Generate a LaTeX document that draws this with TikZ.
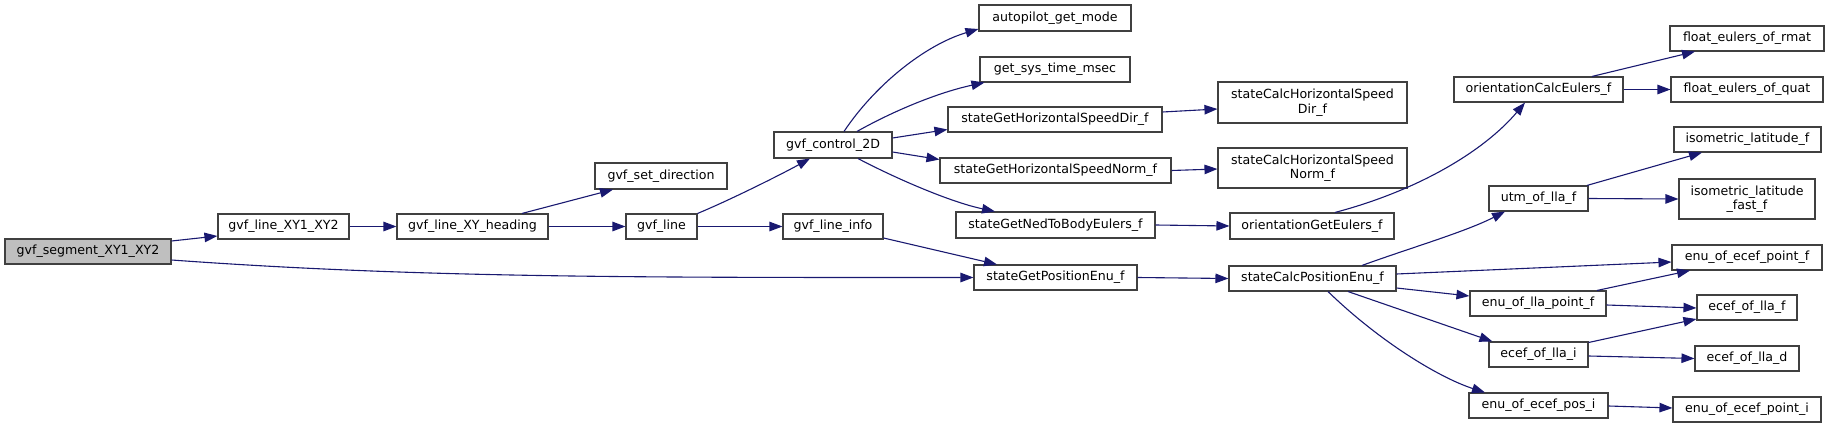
\documentclass[tikz,border=0pt]{standalone}
\usepackage{fontspec}
\newfontfamily\dejavu{DejaVu Sans}
\usetikzlibrary{arrows.meta}
\definecolor{edgecol}{HTML}{191970}
\definecolor{boxcol}{HTML}{404040}
\definecolor{rootfill}{HTML}{BFBFBF}
\tikzset{
  fbox/.style={draw=boxcol, line width=1.1pt, fill=white, inner sep=0pt,
    font=\dejavu\fontsize{12.6}{14.5}\selectfont, align=center, text=black},
  edge/.style={draw=edgecol, line width=1.1pt, -{Triangle[length=13pt,width=9.5pt]}},
}
\newcommand\mybox[6]{\node[fbox, minimum width=#4pt, minimum height=#5pt] (#1) at (#2,#3) {#6};}
\begin{document}
\begin{tikzpicture}[x=1pt,y=-1pt]
\useasboundingbox (0,0) rectangle (1829,428);
% column 1-5
\node[fbox, fill=rootfill, minimum width=166pt, minimum height=25pt] (seg) at (88,251.5) {gvf\_segment\_XY1\_XY2};
\mybox{l12}{283.5}{226.5}{131}{25}{gvf\_line\_XY1\_XY2}
\mybox{head}{472.5}{226.5}{151}{25}{gvf\_line\_XY\_heading}
\mybox{setdir}{661}{176}{132}{26}{gvf\_set\_direction}
\mybox{line}{661.5}{226.5}{71}{25}{gvf\_line}
\mybox{info}{833}{226.5}{100}{25}{gvf\_line\_info}
\mybox{c2d}{833}{145}{118}{26}{gvf\_control\_2D}
% column 6
\mybox{apm}{1055}{18}{152}{26}{autopilot\_get\_mode}
\mybox{gst}{1055}{69.5}{150}{25}{get\_sys\_time\_msec}
\mybox{hsd}{1055}{119.5}{214}{25}{stateGetHorizontalSpeedDir\_f}
\mybox{hsn}{1055.5}{170.5}{231}{25}{stateGetHorizontalSpeedNorm\_f}
\mybox{ned}{1055.5}{225}{199}{26}{stateGetNedToBodyEulers\_f}
\mybox{pos}{1055.5}{277.5}{163}{25}{stateGetPositionEnu\_f}
% column 7
\mybox{chsd}{1312.5}{102.5}{189}{41}{stateCalcHorizontalSpeed\\Dir\_f}
\mybox{chsn}{1312.5}{168}{189}{40}{stateCalcHorizontalSpeed\\Norm\_f}
\mybox{oge}{1312}{226}{164}{26}{orientationGetEulers\_f}
\mybox{cpos}{1312.5}{278.5}{167}{25}{stateCalcPositionEnu\_f}
% column 8
\mybox{oce}{1538.5}{89.5}{169}{25}{orientationCalcEulers\_f}
\mybox{utm}{1538.5}{198.5}{99}{25}{utm\_of\_lla\_f}
\mybox{elp}{1538}{303.5}{136}{25}{enu\_of\_lla\_point\_f}
\mybox{eli}{1538.5}{354.5}{99}{25}{ecef\_of\_lla\_i}
\mybox{eep}{1538.5}{405.5}{139}{25}{enu\_of\_ecef\_pos\_i}
% column 9
\mybox{rmat}{1747}{38.5}{154}{25}{float\_eulers\_of\_rmat}
\mybox{quat}{1747}{89.5}{152}{25}{float\_eulers\_of\_quat}
\mybox{iso}{1747.5}{139.5}{147}{25}{isometric\_latitude\_f}
\mybox{isof}{1747}{199}{136}{40}{isometric\_latitude\\\_fast\_f}
\mybox{eepf}{1747}{257.5}{150}{25}{enu\_of\_ecef\_point\_f}
\mybox{elf}{1747}{307.5}{100}{25}{ecef\_of\_lla\_f}
\mybox{eld}{1747}{358.5}{104}{25}{ecef\_of\_lla\_d}
\mybox{eepi}{1747}{409.5}{148}{25}{enu\_of\_ecef\_point\_i}
% edges
\draw[edge] ([yshift=10.5pt]seg.east) -- ([yshift=-9.5pt]l12.west);
\draw[edge] ([yshift=-8.5pt]seg.east) .. controls (420,278) and (640,277.5) .. (pos.west);
\draw[edge] (l12.east) -- (head.west);
\draw[edge] ([xshift=49.5pt]head.north) -- ([xshift=-48pt]setdir.south);
\draw[edge] (head.east) -- (line.west);
\draw[edge] (line.north east) .. controls (730,200) and (780,175) .. ([xshift=-23pt]c2d.south);
\draw[edge] (line.east) -- (info.west);
\draw[edge] ([yshift=-11.5pt]info.east) -- ([xshift=-58.5pt]pos.north);
\draw[edge] ([xshift=11pt]c2d.north) .. controls (875,85) and (925,45) .. ([yshift=-11pt]apm.west);
\draw[edge] ([xshift=24pt]c2d.north) .. controls (895,110) and (940,92) .. ([xshift=5pt]gst.south west);
\draw[edge] ([yshift=7pt]c2d.east) -- ([yshift=-10pt]hsd.west);
\draw[edge] ([yshift=-7pt]c2d.east) -- ([yshift=11pt]hsn.west);
\draw[edge] ([xshift=25pt]c2d.south) .. controls (895,178) and (950,202) .. ([xshift=-60.5pt]ned.north);
\draw[edge] ([yshift=7.5pt]hsd.east) -- ([yshift=-6.5pt]chsd.west);
\draw[edge] (hsn.east) -- ([yshift=-1pt]chsn.west);
\draw[edge] (ned.east) -- (oge.west);
\draw[edge] (pos.east) -- (cpos.west);
\draw[edge] ([xshift=23pt]oge.north) .. controls (1420,190) and (1485,150) .. ([xshift=-13.5pt]oce.south);
\draw[edge] ([xshift=49.5pt]cpos.north) .. controls (1410,248) and (1465,232) .. ([xshift=-33.5pt]utm.south);
\draw[edge] ([yshift=4.5pt]cpos.east) -- ([yshift=-4.5pt]eepf.west);
\draw[edge] ([yshift=-9.5pt]cpos.east) -- ([yshift=7.5pt]elp.west);
\draw[edge] ([xshift=35.5pt]cpos.south) -- ([xshift=4pt]eli.north west);
\draw[edge] ([xshift=15.5pt]cpos.south) .. controls (1380,342) and (1440,378) .. ([xshift=-53.5pt]eep.north);
\draw[edge] ([xshift=53.5pt]oce.north) -- ([xshift=-52pt]rmat.south);
\draw[edge] (oce.east) -- (quat.west);
\draw[edge] ([xshift=48.5pt]utm.north) -- ([xshift=-45.5pt]iso.south);
\draw[edge] (utm.east) -- (isof.west);
\draw[edge] ([xshift=59pt]elp.north) -- ([xshift=-57pt]eepf.south);
\draw[edge] ([yshift=-1.5pt]elp.east) -- ([yshift=-0.5pt]elf.west);
\draw[edge] ([yshift=12pt]eli.east) -- ([yshift=-11.5pt]elf.west);
\draw[edge] ([yshift=-1.5pt]eli.east) -- (eld.west);
\draw[edge] ([yshift=-0.5pt]eep.east) -- ([yshift=1.5pt]eepi.west);
\end{tikzpicture}
\end{document}
